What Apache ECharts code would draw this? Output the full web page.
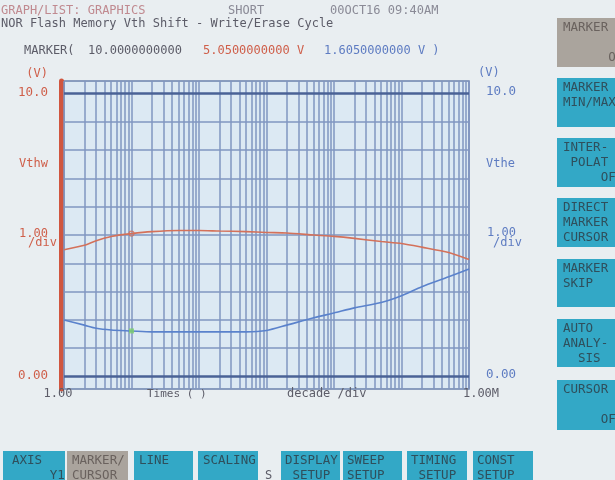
<!DOCTYPE html>
<html><head><meta charset="utf-8">
<script src="https://cdn.jsdelivr.net/npm/echarts@6/dist/echarts.min.js"></script>
<style>html,body{margin:0;padding:0;background:#e9eef1}#c{width:615px;height:480px}</style>
</head><body><div id="c"></div>
<script>
// Write/erase cycle count (log axis) and threshold voltages in volts
const cycles = [1, 2, 3, 5, 10, 20, 50, 100, 200, 500, 1e3, 2e3, 5e3, 1e4, 2e4, 5e4, 1e5, 2e5, 5e5, 1e6];
const vthWrite = [4.48, 4.64, 4.80, 4.95, 5.05, 5.12, 5.16, 5.16, 5.14, 5.12, 5.09, 5.07, 5.00, 4.95, 4.88, 4.77, 4.70, 4.57, 4.38, 4.13];
const vthErase = [1.99, 1.81, 1.70, 1.64, 1.605, 1.57, 1.57, 1.57, 1.57, 1.57, 1.62, 1.81, 2.07, 2.24, 2.42, 2.61, 2.85, 3.17, 3.52, 3.80];
const markerCycle = 10;
const markerWrite = 5.05;
const markerErase = 1.605;
// Scale labels
const yTickValues = [0, 10];
const yTickLabels = ['0.00', '10.0'];
const xTickValues = [1, 1e6];
const xTickLabels = ['1.00', '1.00M'];
const yGridValues = [0, 1, 2, 3, 4, 5, 6, 7, 8, 9, 10];
const decades = [1, 10, 100, 1e3, 1e4, 1e5];

const RED = '#cf5f4a', BLUE = '#5e7cc2', GRAY = '#5c5c68';
const FONT = '"DejaVu Sans Mono", monospace';
const CYAN = '#33a8c6', KEYGRAY = '#aaa49d', KEYTEXT = '#2f4f5c';

const xGridValues = [];
decades.forEach(d => { for (let m = 1; m <= 9; m++) xGridValues.push(m * d); });
xGridValues.push(1e6);

const chart = echarts.init(document.getElementById('c'));

function txt(text, x, y, color, size, align) {
  return { type: 'text', silent: true, z: 50,
    style: { text, x, y, fill: color, font: (size || 12) + 'px ' + FONT,
      textAlign: align || 'left', textVerticalAlign: 'middle', verticalAlign: 'middle' } };
}
function key(x, y, w, h, fill, lines, tx, color) {
  const els = [{ type: 'rect', silent: true, z: 40, shape: { x, y, width: w, height: h }, style: { fill } }];
  lines.forEach((l, i) => els.push(txt(l, tx !== undefined ? tx : x + 6, y + 10 + i * 15, color || KEYTEXT, 12.5)));
  return els;
}

const staticGraphics = [].concat(
  [txt('GRAPH/LIST: GRAPHICS', 1, 11, '#c08a90', 12),
   txt('SHORT', 228, 11, '#8a8a96', 12),
   txt('00OCT16 09:40AM', 330, 11, '#8a8a96', 12),
   txt('NOR Flash Memory Vth Shift - Write/Erase Cycle', 1, 24, GRAY, 12),
   txt('MARKER(', 24, 51, GRAY, 12),
   txt('10.0000000000', 88, 51, GRAY, 12),
   txt('5.0500000000 V', 203, 51, RED, 12),
   txt('1.6050000000 V )', 324, 51, BLUE, 12),
   txt('(V)', 48, 74, RED, 12, 'right'),
   txt('Vthw', 48, 164, RED, 12, 'right'),
   txt('1.00', 48, 234, RED, 12, 'right'),
   txt('/div', 57, 243, RED, 12, 'right'),
   txt('(V)', 478, 73, BLUE, 12),
   txt('Vthe', 486, 164, BLUE, 12),
   txt('1.00', 487, 233, BLUE, 12),
   txt('/div', 493, 243, BLUE, 12),
   txt('Times ( )', 147, 394, GRAY, 11),
   txt('decade /div', 287, 394, GRAY, 12),
   txt('S', 265, 476, GRAY, 12)],
  key(557, 18, 70, 49, KEYGRAY, ['MARKER', '', '      OFF'], 563, '#6a625e'),
  key(557, 78, 70, 49, CYAN, ['MARKER', 'MIN/MAX']),
  key(557, 138, 70, 49, CYAN, ['INTER-', ' POLAT', '     OFF']),
  key(557, 198, 70, 49, CYAN, ['DIRECT', 'MARKER', 'CURSOR']),
  key(557, 259, 70, 48, CYAN, ['MARKER', 'SKIP']),
  key(557, 319, 70, 48, CYAN, ['AUTO', 'ANALY-', '  SIS']),
  key(557, 380, 70, 50, CYAN, ['CURSOR', '', '     OFF']),
  key(3, 451, 62, 40, CYAN, ['AXIS', '     Y1'], 12),
  key(67, 451, 61, 40, KEYGRAY, ['MARKER/', 'CURSOR'], 72, '#6a625e'),
  key(134, 451, 59, 40, CYAN, ['LINE'], 139),
  key(198, 451, 60, 40, CYAN, ['SCALING'], 203),
  key(281, 451, 59, 40, CYAN, ['DISPLAY', ' SETUP'], 285),
  key(343, 451, 59, 40, CYAN, ['SWEEP', 'SETUP'], 347),
  key(407, 451, 60, 40, CYAN, ['TIMING', ' SETUP'], 411),
  key(473, 451, 60, 40, CYAN, ['CONST', 'SETUP'], 477)
);

chart.setOption({
  backgroundColor: '#e9eef1',
  animation: false,
  grid: { left: 64, top: 81, width: 405, height: 308, show: true,
    backgroundColor: '#dce9f3', borderColor: '#6b82ad', borderWidth: 1.5 },
  xAxis: { type: 'log', logBase: 10, min: 1, max: 1e6,
    axisLine: { show: false }, axisTick: { show: false }, axisLabel: { show: false }, splitLine: { show: false } },
  yAxis: [
    { type: 'value', min: -0.45, max: 10.45, offset: 2.5,
      axisLine: { show: true, lineStyle: { color: '#d0563f', width: 5 } },
      axisTick: { show: false }, axisLabel: { show: false }, splitLine: { show: false } }
  ],
  series: [
    { type: 'line', data: [], silent: true, z: 1,
      markLine: { silent: true, symbol: 'none', label: { show: false }, animation: false,
        data: xGridValues.map(v => ({ xAxis: v, lineStyle: { color: '#8196c1', width: 1.5, type: 'solid' } }))
          .concat(yGridValues.map(v => ({ yAxis: v, lineStyle: { color: (v === 0 || v === 10) ? '#4a6296' : '#8196c1',
            width: (v === 0 || v === 10) ? 2.6 : 1.5, type: 'solid' } }))) } },
    { type: 'line', name: 'Vthw', data: cycles.map((c, i) => [c, vthWrite[i]]), showSymbol: false, smooth: 0.25,
      lineStyle: { color: '#d4715a', width: 1.6 }, z: 5 },
    { type: 'line', name: 'Vthe', data: cycles.map((c, i) => [c, vthErase[i]]), showSymbol: false, smooth: 0.25,
      lineStyle: { color: '#5a82cc', width: 1.6 }, z: 5 },
    { type: 'scatter', data: [[markerCycle, markerWrite]], symbol: 'circle', symbolSize: 5, z: 6,
      itemStyle: { color: 'rgba(0,0,0,0)', borderColor: '#d4715a', borderWidth: 1.2 } },
    { type: 'scatter', data: [[markerCycle, markerErase]], symbol: 'rect', symbolSize: 5, z: 6,
      itemStyle: { color: '#7ccf6a' } }
  ]
});

// Scale labels placed at their axis values
const scaleLabels = [];
yTickValues.forEach((v, i) => {
  const p = chart.convertToPixel({ gridIndex: 0 }, [1, v]);
  scaleLabels.push(txt(yTickLabels[i], 48, p[1] - 1, RED, 12.5, 'right'));
  scaleLabels.push(txt(yTickLabels[i], 486, p[1] - 2, BLUE, 12.5));
});
xTickValues.forEach((v, i) => {
  const p = chart.convertToPixel({ gridIndex: 0 }, [v, 0]);
  scaleLabels.push(txt(xTickLabels[i], i === 0 ? p[0] - 6 : p[0] + 12, 394, GRAY, 12, 'center'));
});
chart.setOption({ graphic: staticGraphics.concat(scaleLabels) });
</script></body></html>
